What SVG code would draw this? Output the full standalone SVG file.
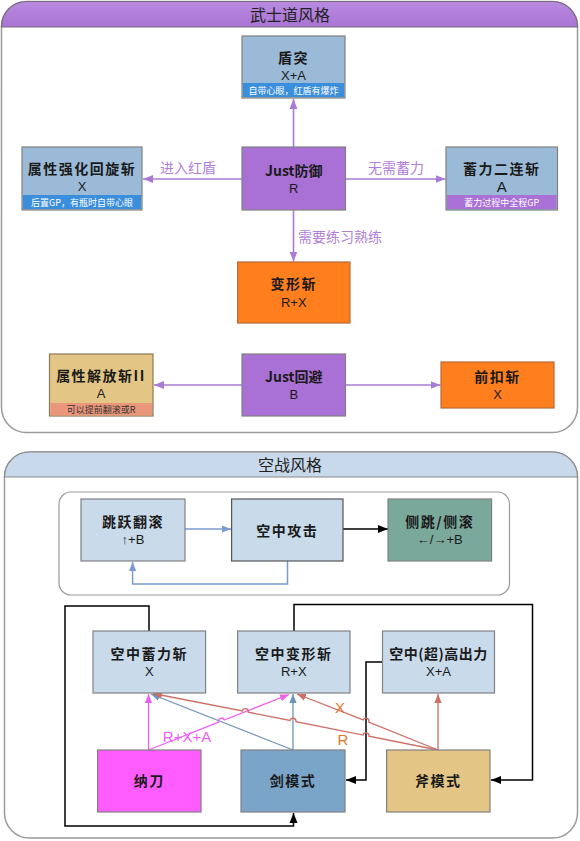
<svg xmlns="http://www.w3.org/2000/svg" width="580" height="841" viewBox="0 0 580 841">
<defs>
<style>
.t{font-family:"Noto Sans CJK SC","Liberation Sans",sans-serif;font-weight:bold;font-size:14px;fill:#1a1a1a;text-anchor:middle;dominant-baseline:central;letter-spacing:1.5px}
.s{font-family:"Liberation Sans","Noto Sans CJK SC",sans-serif;font-size:13px;fill:#1a1a1a;text-anchor:middle;dominant-baseline:central}
.b{font-family:"Noto Sans CJK SC",serif;font-size:9px;text-anchor:middle;dominant-baseline:central}
.h{font-family:"Noto Sans CJK SC",sans-serif;font-size:16px;fill:#222;text-anchor:middle;dominant-baseline:central}
.pl{font-family:"Noto Sans CJK SC",sans-serif;font-size:14px;fill:#B07FD8;dominant-baseline:central}
.box{stroke:#808080;stroke-width:1.2}
.pc{stroke:#A87BD6;stroke-width:1.6;fill:none;marker-end:url(#mp)}
</style>
<marker id="mp" markerUnits="userSpaceOnUse" markerWidth="10" markerHeight="10" viewBox="0 0 10 10" refX="10" refY="5" orient="auto"><path d="M0,1 L10,5 L0,9 z" fill="#A87BD6"/></marker>
<marker id="mb" markerUnits="userSpaceOnUse" markerWidth="9" markerHeight="9" viewBox="0 0 10 10" refX="10" refY="5" orient="auto"><path d="M0,1 L10,5 L0,9 z" fill="#7B9BD0"/></marker>
<marker id="mk" markerUnits="userSpaceOnUse" markerWidth="10" markerHeight="10" viewBox="0 0 10 10" refX="10" refY="5" orient="auto"><path d="M0,1 L10,5 L0,9 z" fill="#000"/></marker>
<marker id="mpk" markerUnits="userSpaceOnUse" markerWidth="9" markerHeight="9" viewBox="0 0 10 10" refX="10" refY="5" orient="auto"><path d="M0,1 L10,5 L0,9 z" fill="#F060F0"/></marker>
<marker id="msb" markerUnits="userSpaceOnUse" markerWidth="9" markerHeight="9" viewBox="0 0 10 10" refX="10" refY="5" orient="auto"><path d="M0,1 L10,5 L0,9 z" fill="#6F93B8"/></marker>
<marker id="mr" markerUnits="userSpaceOnUse" markerWidth="9" markerHeight="9" viewBox="0 0 10 10" refX="10" refY="5" orient="auto"><path d="M0,1 L10,5 L0,9 z" fill="#CD6F66"/></marker>
<linearGradient id="gp" x1="0" y1="0" x2="0" y2="1"><stop offset="0" stop-color="#BA8AE0"/><stop offset="1" stop-color="#A874D3"/></linearGradient>
</defs>

<!-- Panel 1 -->
<g id="panel-bushido">
<rect x="1.5" y="1.5" width="576" height="431" rx="25" fill="#fff" stroke="#9a9a9a" stroke-width="1.5"/>
<path d="M1.5,27 L1.5,26.5 A25,25 0 0 1 26.5,1.5 L552.5,1.5 A25,25 0 0 1 577.5,26.5 L577.5,27 Z" fill="url(#gp)" stroke="#7a6b7a" stroke-width="1.2"/>
<text class="h" x="290" y="14">武士道风格</text>
</g>

<g id="connectors-top">
<line class="pc" x1="293.5" y1="147" x2="293.5" y2="99"/>
<line class="pc" x1="242" y1="179" x2="143" y2="179"/>
<line class="pc" x1="345.5" y1="179" x2="445.5" y2="179"/>
<line class="pc" x1="293.5" y1="210" x2="293.5" y2="261.5"/>
<line class="pc" x1="242" y1="385" x2="154" y2="385"/>
<line class="pc" x1="345.5" y1="385" x2="440.5" y2="385"/>
<text class="pl" x="160" y="167">进入红盾</text>
<text class="pl" x="368" y="167">无需蓄力</text>
<text class="pl" x="298" y="236">需要练习熟练</text>
</g>

<g id="node-duntu">
<rect class="box" x="242" y="36" width="103" height="62" fill="#9BBAD8"/>
<rect x="243" y="83" width="101" height="14" fill="#3B8EDB"/>
<text class="t" x="293.5" y="57">盾突</text>
<text class="s" x="293.5" y="75">X+A</text>
<text class="b" x="293.5" y="90" fill="#fff">自带心眼，红盾有爆炸</text>
</g>

<g id="node-shuxing-qianghua">
<rect class="box" x="22" y="147" width="120" height="63" fill="#9BBAD8"/>
<rect x="23" y="195" width="118" height="14" fill="#3B8EDB"/>
<text class="t" x="82" y="168">属性强化回旋斩</text>
<text class="s" x="82" y="186">X</text>
<text class="b" x="82" y="202" fill="#fff">后置GP，有瓶时自带心眼</text>
</g>

<g id="node-just-guard">
<rect class="box" x="242" y="147" width="103.5" height="63" fill="#A970D6"/>
<text class="t" x="293.8" y="170" style="letter-spacing:0">Just防御</text>
<text class="s" x="293.8" y="188">R</text>
</g>

<g id="node-xuli">
<rect class="box" x="446" y="147" width="111.5" height="63" fill="#9BBAD8"/>
<rect x="447" y="195" width="109.5" height="14" fill="#A970D6"/>
<text class="t" x="501.7" y="168">蓄力二连斩</text>
<text class="s" x="501.7" y="186" style="font-size:15px">A</text>
<text class="b" x="501.7" y="202" fill="#fff">蓄力过程中全程GP</text>
</g>

<g id="node-bianxing">
<rect x="237.6" y="262" width="112.4" height="61" fill="#FF7F1E" stroke="#B86A3A" stroke-width="1.2"/>
<text class="t" x="293.8" y="283">变形斩</text>
<text class="s" x="293.8" y="302">R+X</text>
</g>

<g id="node-just-evade">
<rect class="box" x="242" y="354" width="103.5" height="62" fill="#A970D6"/>
<text class="t" x="293.8" y="376" style="letter-spacing:0">Just回避</text>
<text class="s" x="293.8" y="394">B</text>
</g>

<g id="node-jiefang">
<rect x="49.5" y="354" width="103.5" height="62" fill="#E3C585" stroke="#8A7A5A" stroke-width="1.2"/>
<rect x="50.5" y="403" width="101.5" height="12.5" fill="#E9967A"/>
<text class="t" x="101" y="375">属性解放斩II</text>
<text class="s" x="101" y="393">A</text>
<text class="b" x="101" y="409.5" fill="#333">可以提前翻滚或R</text>
</g>

<g id="node-qiankou">
<rect x="441" y="362" width="113" height="46" fill="#FF7F1E" stroke="#B86A3A" stroke-width="1.2"/>
<text class="t" x="497.5" y="376">前扣斩</text>
<text class="s" x="497.5" y="394">X</text>
</g>

<!-- Panel 2 -->
<g id="panel-aerial">
<rect x="4.5" y="452" width="573" height="386" rx="25" fill="#fff" stroke="#9a9a9a" stroke-width="1.5"/>
<path d="M4.5,477 A25,25 0 0 1 29.5,452 L552.5,452 A25,25 0 0 1 577.5,477 Z" fill="#C7D9EA" stroke="#8a8a8a" stroke-width="1.2"/>
<text class="h" x="290" y="464">空战风格</text>
<rect x="59" y="492" width="450.5" height="103" rx="12" fill="#fff" stroke="#9a9a9a" stroke-width="1.2"/>
</g>

<g id="connectors-aerial">
<line x1="185" y1="529" x2="231" y2="529" stroke="#7B9BD0" stroke-width="1.5" marker-end="url(#mb)"/>
<line x1="343" y1="529" x2="388" y2="529" stroke="#000" stroke-width="1.5" marker-end="url(#mk)"/>
<path d="M287.5,561 L287.5,584 L132.6,584 L132.6,562" fill="none" stroke="#7B9BD0" stroke-width="1.5" marker-end="url(#mb)"/>

<path d="M149,631 L149,606 L65,606 L65,826 L293.5,826 L293.5,813" fill="none" stroke="#000" stroke-width="1.5" marker-end="url(#mk)"/>
<path d="M294,631 L294,604.5 L532.5,604.5 L532.5,780 L491,780" fill="none" stroke="#000" stroke-width="1.5" marker-end="url(#mk)"/>
<path d="M382.5,662 L366,662 L366,780 L346,780" fill="none" stroke="#000" stroke-width="1.5" marker-end="url(#mk)"/>

<line x1="148.5" y1="750" x2="148.5" y2="694" stroke="#F060F0" stroke-width="1.3" marker-end="url(#mpk)"/>
<line x1="293" y1="750" x2="293" y2="694" stroke="#6F93B8" stroke-width="1.3" marker-end="url(#msb)"/>
<path d="M293,750 L151,694" fill="none" stroke="#6F93B8" stroke-width="1.3" marker-end="url(#msb)"/>
<path d="M148.5,750 L218.71,722.21 A3,3 0 0 1 224.29,719.99 L289,694.5" fill="none" stroke="#F060F0" stroke-width="1.3" marker-end="url(#mpk)"/>
<line x1="438" y1="750" x2="438" y2="694" stroke="#CD6F66" stroke-width="1.3" marker-end="url(#mr)"/>
<path d="M438,750 L368.78,722.22 A3,3 0 0 0 363.22,719.98 L297,694" fill="none" stroke="#CD6F66" stroke-width="1.3" marker-end="url(#mr)"/>
<path d="M438,750 L368.94,736.24 A3,3 0 0 0 363.06,735.06 L295.94,721.69 A3,3 0 0 0 290.06,720.51 L248.24,712.18 A3,3 0 0 0 242.36,711.00 L153,693.5" fill="none" stroke="#CD6F66" stroke-width="1.3" marker-end="url(#mr)"/>
<text x="187" y="736" font-family="Liberation Sans,sans-serif" font-size="15" fill="#F060F0" text-anchor="middle" dominant-baseline="central">R+X+A</text>
<text x="340" y="707" font-family="Liberation Sans,sans-serif" font-size="15" fill="#E0782A" text-anchor="middle" dominant-baseline="central">X</text>
<text x="343" y="739" font-family="Liberation Sans,sans-serif" font-size="15" fill="#E0782A" text-anchor="middle" dominant-baseline="central">R</text>
</g>

<g id="node-tiaoyue">
<rect class="box" x="81" y="499" width="104" height="62" fill="#C9DAEA"/>
<text class="t" x="133" y="521">跳跃翻滚</text>
<text class="s" x="133" y="539">↑+B</text>
</g>
<g id="node-kongzhong-gongji">
<rect x="231.6" y="499" width="111.4" height="62" fill="#C9DAEA" stroke="#555" stroke-width="1.2"/>
<text class="t" x="287.3" y="530">空中攻击</text>
</g>
<g id="node-cetiao">
<rect class="box" x="388" y="499" width="103.6" height="62" fill="#7AA89B"/>
<text class="t" x="439.8" y="521">侧跳/侧滚</text>
<text class="s" x="439.8" y="539">←/→+B</text>
</g>

<g id="node-kz-xuli">
<rect class="box" x="93" y="631" width="112.6" height="62" fill="#C9DAEA"/>
<text class="t" x="149.3" y="653">空中蓄力斩</text>
<text class="s" x="149.3" y="671">X</text>
</g>
<g id="node-kz-bianxing">
<rect class="box" x="237.6" y="631" width="112.4" height="62" fill="#C9DAEA"/>
<text class="t" x="293.8" y="653">空中变形斩</text>
<text class="s" x="293.8" y="671">R+X</text>
</g>
<g id="node-kz-gaochuli">
<rect class="box" x="382.5" y="631" width="112" height="62" fill="#C9DAEA"/>
<text class="t" x="438.5" y="653" style="letter-spacing:0.5px">空中(超)高出力</text>
<text class="s" x="438.5" y="671">X+A</text>
</g>

<g id="node-nadao">
<rect class="box" x="97.6" y="750" width="103.4" height="62" fill="#FF5CFF"/>
<text class="t" x="149.3" y="780">纳刀</text>
</g>
<g id="node-jian">
<rect class="box" x="241" y="750" width="104" height="62" fill="#7BA4C9"/>
<text class="t" x="293" y="780">剑模式</text>
</g>
<g id="node-fu">
<rect class="box" x="386.6" y="750" width="103.4" height="62" fill="#E3C585"/>
<text class="t" x="438.3" y="780">斧模式</text>
</g>
</svg>
